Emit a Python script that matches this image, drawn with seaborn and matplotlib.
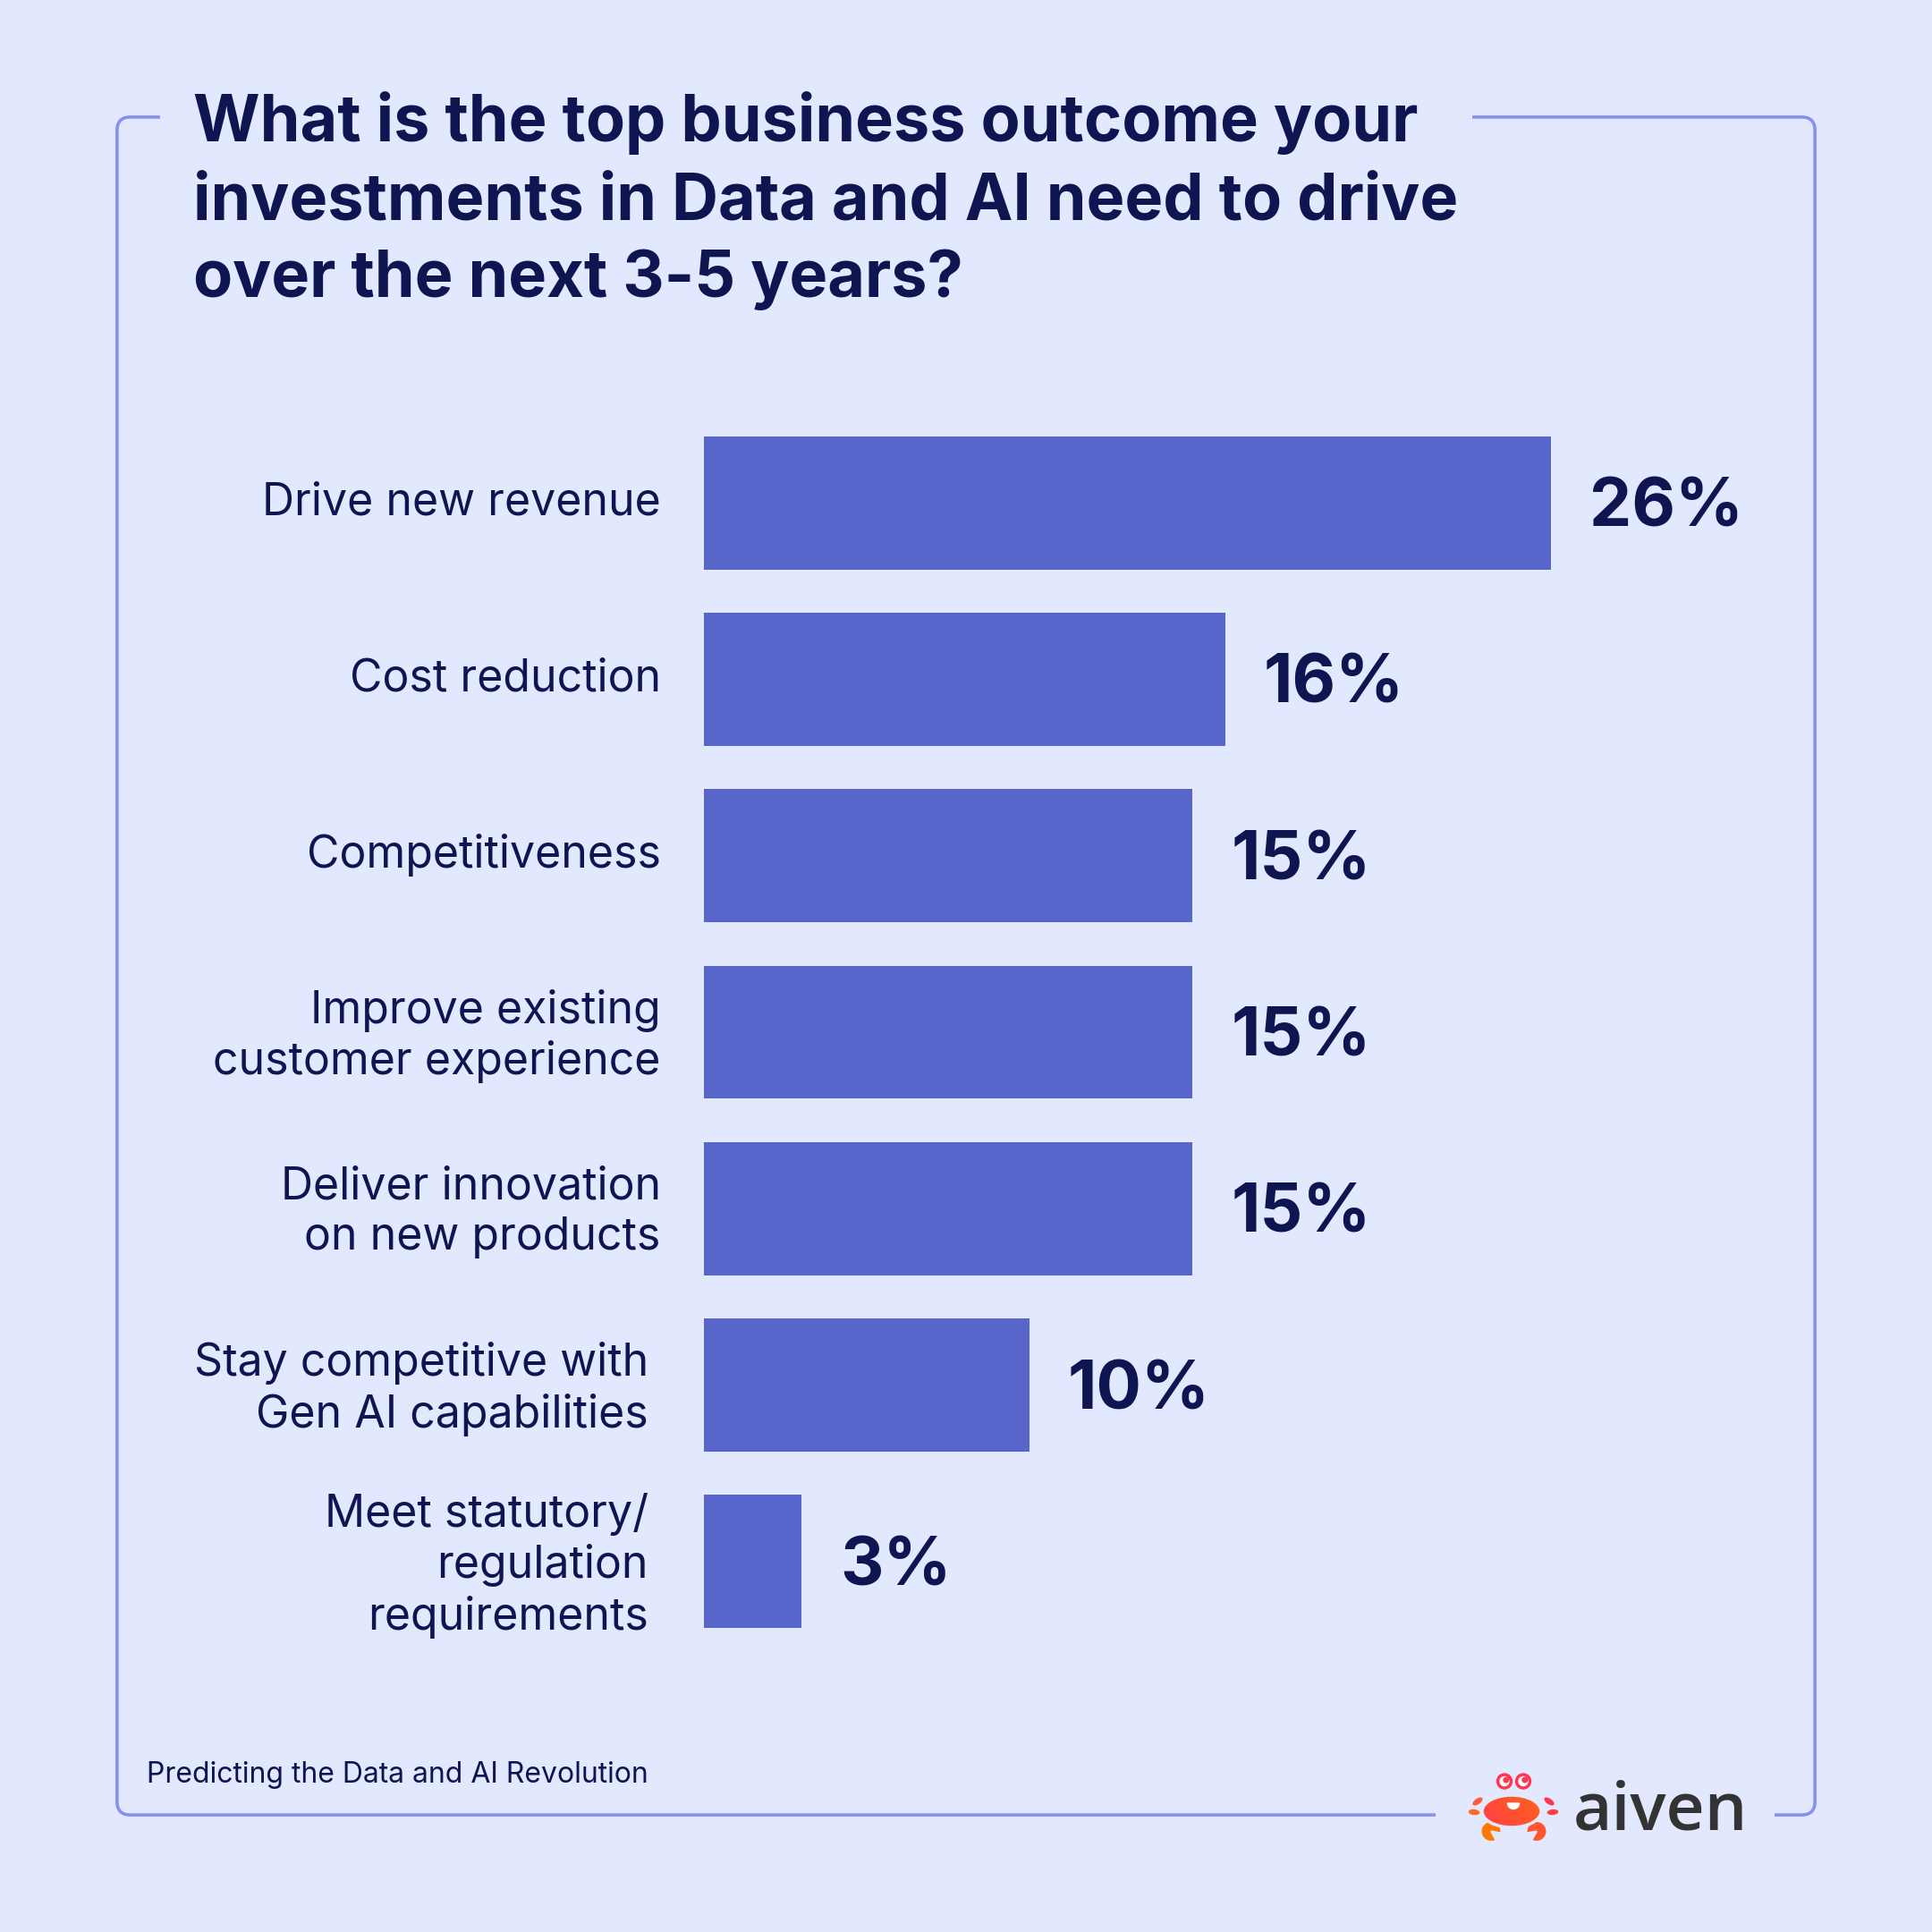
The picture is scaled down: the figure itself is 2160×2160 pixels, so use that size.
import numpy as np
import pandas as pd
import matplotlib
matplotlib.use("Agg")
import matplotlib.pyplot as plt
import matplotlib.transforms as mtransforms
from matplotlib.patches import FancyBboxPatch, Rectangle, Ellipse, Circle, Wedge
from matplotlib.colors import LinearSegmentedColormap
import seaborn as sns

# ---- data ----
categories = [
    "Drive new revenue",
    "Cost reduction",
    "Competitiveness",
    "Improve existing\ncustomer experience",
    "Deliver innovation\non new products",
    "Stay competitive with\nGen AI capabilities",
    "Meet statutory/\nregulation\nrequirements",
]
values = [26, 16, 15, 15, 15, 10, 3]
value_labels = ["26%", "16%", "15%", "15%", "15%", "10%", "3%"]
title_lines = [
    "What is the top business outcome your",
    "investments in Data and AI need to drive",
    "over the next 3-5 years?",
]
source_text = "Predicting the Data and AI Revolution"
brand_text = "aiven"

# ---- style ----
BG = "#E2E9FE"
BAR = "#5866CC"
NAVY = "#0E1550"
BORDER = "#8792EA"

sns.set_style("white")
plt.rcParams["font.family"] = ["Inter", "DejaVu Sans"]

W = 2160
DPI = 100
fig = plt.figure(figsize=(21.6, 21.6), dpi=DPI, facecolor=BG)

# axes placement (figure fractions)
ax_left = 786.6 / W
ax_width = 1093.0 / W
ax_top = 1 - 463.4 / W
ax_bottom = 1 - 1844.6 / W
ax = fig.add_axes([ax_left, ax_bottom, ax_width, ax_top - ax_bottom])
ax.set_facecolor("none")

df = pd.DataFrame({"category": categories, "value": values})
sns.barplot(data=df, x="value", y="category", orient="h", color=BAR,
            saturation=1, width=0.755, linewidth=0, edgecolor="none",
            ax=ax, order=categories)

ax.set_xlim(0, 30)
ax.set_ylim(6.5, -0.5)
ax.set_xlabel("")
ax.set_ylabel("")
ax.set_xticks([])
for s in ax.spines.values():
    s.set_visible(False)
ax.tick_params(axis="y", length=0, pad=34.5, labelsize=36, labelcolor=NAVY)
for i, lab in enumerate(ax.get_yticklabels()):
    lab.set_linespacing(1.25)
    dx = -13.8 / DPI if i >= 5 else 0
    lab.set_transform(lab.get_transform() + mtransforms.ScaledTranslation(dx, 5.5 / DPI, fig.dpi_scale_trans))

texts = ax.bar_label(ax.containers[0], labels=value_labels, padding=31,
                     fontsize=54, fontweight="bold", color=NAVY)
for t in texts:
    t.xyann = (31, -5)

# ---- border frame with gaps ----
m = 130.9 / W
frame = FancyBboxPatch((m, m), 1 - 2 * m, 1 - 2 * m,
                       boxstyle="round,pad=0,rounding_size=0.0068",
                       transform=fig.transFigure, fill=False,
                       edgecolor=BORDER, linewidth=2.6, zorder=1)
fig.patches.append(frame)
fig.patches.append(Rectangle((179 / W, 1 - m - 0.006), (1646 - 179) / W, 0.012,
                             transform=fig.transFigure, facecolor=BG, edgecolor="none", zorder=2))
fig.patches.append(Rectangle((1605 / W, m - 0.006), (1984 - 1605) / W, 0.012,
                             transform=fig.transFigure, facecolor=BG, edgecolor="none", zorder=2))

# ---- title ----
baselines = [158.4, 245.2, 332.0]
for line, yb in zip(title_lines, baselines):
    fig.text(216 / W, 1 - yb / W, line, fontsize=51.8, fontweight="bold",
             color=NAVY, ha="left", va="baseline", zorder=3)

# ---- footer ----
fig.text(164 / W, 1 - 1985 / W, source_text, fontsize=23, color=NAVY,
         ha="left", va="center", zorder=3)

# ---- logo ----
fig.text(1759 / W, 1 - 2046 / W, brand_text, fontsize=54, color="#333333",
         family=["Open Sans", "DejaVu Sans"], fontweight="semibold",
         ha="left", va="baseline", zorder=3)

lax = fig.add_axes([1642 / W, 1 - 2070 / W, 100 / W, 100 / W])
lax.set_zorder(5)
lax.set_facecolor("none")
lax.axis("off")

# legs
for (cx, cy, ang, col) in [(-0.80, 0.12, 35, "#FF5A3A"), (-0.88, -0.12, -5, "#FF6A20"),
                           (0.80, 0.12, -35, "#FF3352"), (0.88, -0.12, 5, "#FF3F45")]:
    lax.add_patch(Ellipse((cx, cy), 0.30, 0.17, angle=ang, facecolor=col,
                          edgecolor=BG, linewidth=1.5, zorder=1))
# claws (pac-man shapes)
lax.add_patch(Wedge((-0.50, -0.55), 0.23, -10, 300, facecolor="#FF7800",
                    edgecolor=BG, linewidth=1.5, zorder=1.5))
lax.add_patch(Wedge((0.52, -0.55), 0.23, 240, 550, facecolor="#FF5530",
                    edgecolor=BG, linewidth=1.5, zorder=1.5))
# gradient body
body = Ellipse((-0.04, -0.1), 1.32, 0.72, facecolor="none", edgecolor=BG,
               linewidth=2.5, zorder=2.5)
lax.add_patch(body)
gx, gy = np.meshgrid(np.linspace(0, 1, 80), np.linspace(0, 1, 80))
grad = (gx + (1 - gy)) / 2
cmap = LinearSegmentedColormap.from_list("crab", ["#FF7A00", "#FF2E5C"])
im = lax.imshow(1 - grad, extent=(-1, 1, -1, 1), cmap=cmap, origin="upper",
                zorder=2, interpolation="bilinear")
im.set_clip_path(body)
# mouth
lax.add_patch(Wedge((0.0, 0.08), 0.13, 180, 360, color="white", zorder=3))
# eyes
for ex in (-0.2, 0.22):
    lax.add_patch(Circle((ex, 0.57), 0.17, color="#FF3556", zorder=3))
    lax.add_patch(Circle((ex, 0.57), 0.10, color="white", zorder=4))
    lax.add_patch(Circle((ex + 0.035, 0.6), 0.055, color="#FF3556", zorder=5))
lax.set_xlim(-1, 1)
lax.set_ylim(-1, 1)
lax.set_aspect("equal")

fig.savefig("out.png", dpi=DPI, facecolor=BG)
